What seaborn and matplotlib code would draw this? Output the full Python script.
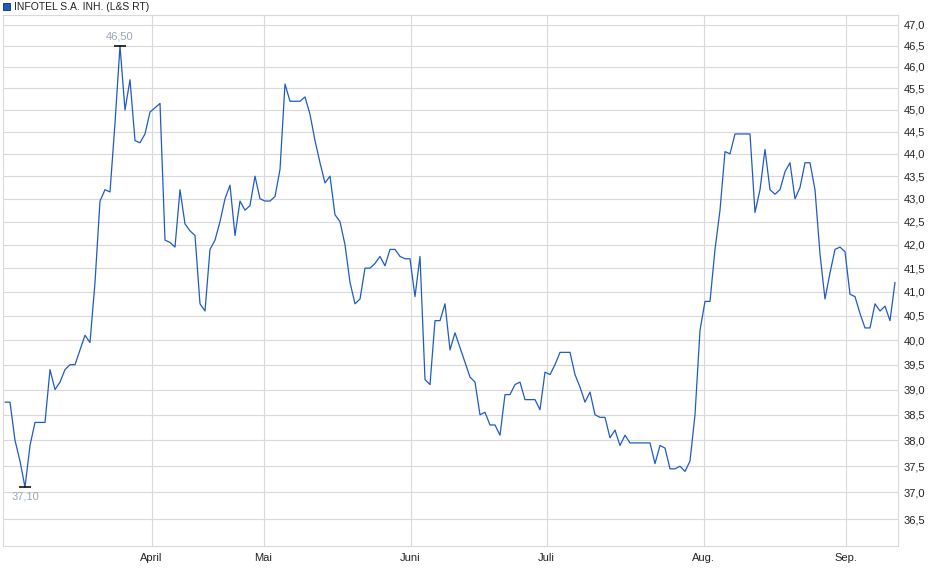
import numpy as np
import matplotlib
matplotlib.use("Agg")
import matplotlib.pyplot as plt
import matplotlib.ticker as mticker
import pandas as pd
import seaborn as sns

# daily prices (L&S RT)
prices = [
    38.75, 38.75, 38.0, 37.6, 37.1, 37.9, 38.35, 38.35, 38.35, 39.4,
    39.0, 39.15, 39.4, 39.5, 39.5, 39.8, 40.1, 39.95, 41.2, 42.95,
    43.2, 43.15, 44.7, 46.5, 45.0, 45.7, 44.3, 44.25, 44.45, 44.95,
    45.05, 45.15, 42.1, 42.05, 41.95, 43.2, 42.45, 42.3, 42.2, 40.75,
    40.6, 41.9, 42.1, 42.5, 43.0, 43.3, 42.2, 42.95, 42.75, 42.85,
    43.5, 43.0, 42.95, 42.95, 43.05, 43.65, 45.6, 45.2, 45.2, 45.2,
    45.3, 44.9, 44.3, 43.8, 43.35, 43.5, 42.65, 42.5, 42.0, 41.2,
    40.75, 40.85, 41.5, 41.5, 41.6, 41.75, 41.55, 41.9, 41.9, 41.75,
    41.7, 41.7, 40.9, 41.75, 39.2, 39.1, 40.4, 40.4, 40.75, 39.8,
    40.15, 39.85, 39.55, 39.25, 39.15, 38.5, 38.55, 38.3, 38.3, 38.1,
    38.9, 38.9, 39.1, 39.15, 38.8, 38.8, 38.8, 38.6, 39.35, 39.3,
    39.5, 39.75, 39.75, 39.75, 39.3, 39.05, 38.75, 38.95, 38.5, 38.45,
    38.45, 38.05, 38.2, 37.9, 38.1, 37.95, 37.95, 37.95, 37.95, 37.95,
    37.55, 37.9, 37.85, 37.45, 37.45, 37.5, 37.4, 37.6, 38.5, 40.2,
    40.8, 40.8, 41.9, 42.75, 44.05, 44.0, 44.45, 44.45, 44.45, 44.45,
    42.7, 43.2, 44.1, 43.2, 43.1, 43.2, 43.6, 43.8, 43.0, 43.25,
    43.8, 43.8, 43.2, 41.8, 40.85, 41.4, 41.9, 41.95, 41.85, 40.95,
    40.9, 40.55, 40.25, 40.25, 40.75, 40.6, 40.7, 40.4, 41.2,
]
month_labels = ["April", "Mai", "Juni", "Juli", "Aug.", "Sep."]
month_pos = [29.3, 51.7, 81.1, 108.3, 139.7, 168.1]
y_ticks = [36.5, 37.0, 37.5, 38.0, 38.5, 39.0, 39.5, 40.0, 40.5, 41.0, 41.5,
           42.0, 42.5, 43.0, 43.5, 44.0, 44.5, 45.0, 45.5, 46.0, 46.5, 47.0]
series_name = "INFOTEL S.A. INH. (L&S RT)"

df = pd.DataFrame({"day": np.arange(len(prices)), "price": prices})

sns.set_style("white")
plt.rcParams["font.family"] = ["Liberation Sans", "DejaVu Sans"]

grid_c = "#d9d9d9"
line_c = "#1f5bc4"

fig = plt.figure(figsize=(9.4, 5.79), dpi=100)
ax = fig.add_axes([3 / 940, 33 / 579, 895 / 940, 531 / 579])

sns.lineplot(data=df, x="day", y="price", ax=ax, color=line_c, linewidth=0.9)

ax.set_yscale("log")
ax.set_ylim(36.0, 47.24)
ax.set_xlim(-0.4, 178.6)

ax.yaxis.set_major_locator(mticker.FixedLocator(y_ticks))
ax.yaxis.set_minor_locator(mticker.NullLocator())
ax.yaxis.set_major_formatter(mticker.FuncFormatter(lambda v, p: f"{v:.1f}".replace(".", ",")))
ax.yaxis.tick_right()
ax.set_xticks(month_pos)
ax.set_xticklabels(month_labels)
ax.tick_params(axis="both", labelsize=8, colors=grid_c, labelcolor="#222222",
               length=3, width=0.8, pad=2)
ax.tick_params(axis="y", length=0, pad=4)
ax.set_xlabel("")
ax.set_ylabel("")

ax.grid(True, color=grid_c, linewidth=0.8)
for s in ax.spines.values():
    s.set_color(grid_c)
    s.set_linewidth(0.8)

# high / low markers
i_hi = int(np.argmax(prices))
i_lo = int(np.argmin(prices))
ax.plot([i_hi, i_lo], [prices[i_hi], prices[i_lo]], linestyle="none",
        marker="_", markersize=8, markeredgewidth=1.1, color="black")
ax.annotate(f"{prices[i_hi]:.2f}".replace(".", ","), (i_hi, prices[i_hi]),
            xytext=(0, 3), textcoords="offset points", ha="center", va="bottom",
            fontsize=8, color="#9aa6b4")
ax.annotate(f"{prices[i_lo]:.2f}".replace(".", ","), (i_lo, prices[i_lo]),
            xytext=(0, -3), textcoords="offset points", ha="center", va="top",
            fontsize=8, color="#9aa6b4")

# legend entry at top left
fig.patches.append(plt.Rectangle((3 / 940, 1 - 10 / 579), 7 / 940, 7 / 579,
                                 transform=fig.transFigure, facecolor=line_c,
                                 edgecolor="#1a2a50", linewidth=0.6))
fig.text(14 / 940, 1 - 6.5 / 579, series_name, fontsize=7.5, color="#222222",
         va="center", ha="left")

fig.savefig("out.png", dpi=100)
